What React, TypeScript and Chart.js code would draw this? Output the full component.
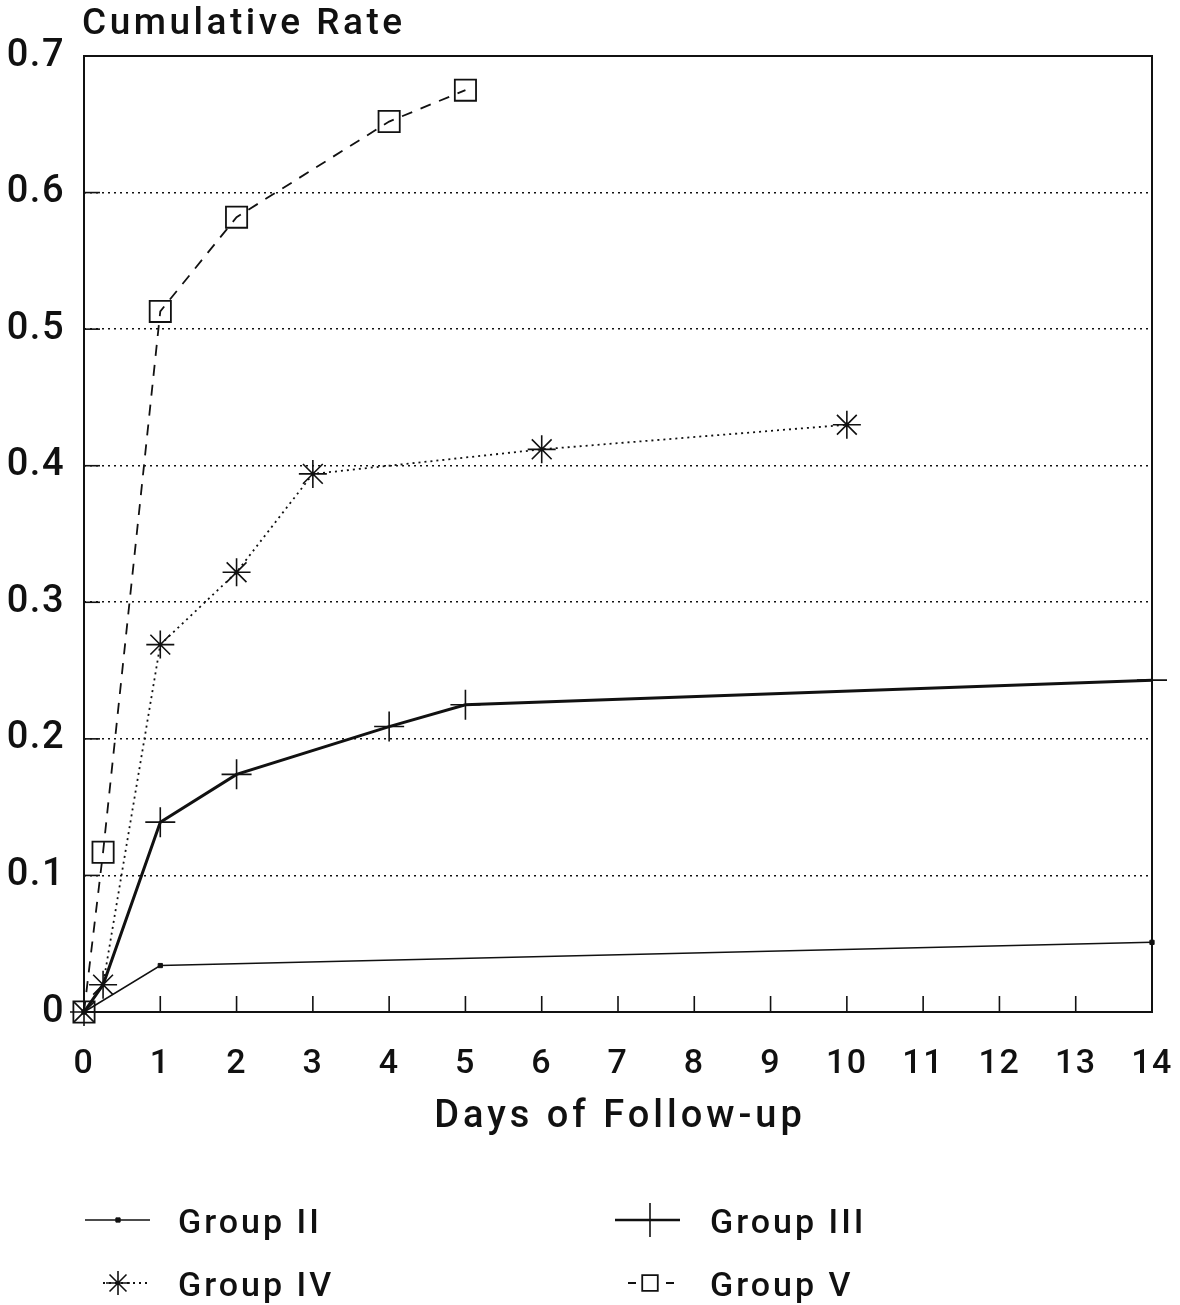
import React, { useEffect, useRef } from "react";
import { Chart, registerables } from "chart.js";

Chart.register(...registerables);

const groupIIX = [0, 1, 14];
const groupIIY = [0, 0.034, 0.051];
const groupIIIX = [0, 0.25, 1, 2, 4, 5, 14];
const groupIIIY = [0, 0.02, 0.139, 0.174, 0.209, 0.225, 0.243];
const groupIVX = [0, 0.25, 1, 2, 3, 6, 10];
const groupIVY = [0, 0.02, 0.269, 0.322, 0.394, 0.412, 0.43];
const groupVX = [0, 0.25, 1, 2, 4, 5];
const groupVY = [0, 0.117, 0.513, 0.582, 0.652, 0.675];

const seriesNames = ["Group II", "Group III", "Group IV", "Group V"];
const xTicks = [0, 1, 2, 3, 4, 5, 6, 7, 8, 9, 10, 11, 12, 13, 14];
const yTicks = [0, 0.1, 0.2, 0.3, 0.4, 0.5, 0.6, 0.7];

const FONT = "Roboto, 'Liberation Sans', Arial, sans-serif";
const WEIGHT = 500;
const INK = "#111";

function pts(xs: number[], ys: number[]) {
  return xs.map((x, i) => ({ x, y: ys[i] }));
}

function drawMarker(ctx: CanvasRenderingContext2D, style: string, x: number, y: number, r: number) {
  ctx.beginPath();
  if (style === "rect") {
    const s = Math.SQRT1_2 * r;
    ctx.rect(x - s, y - s, 2 * s, 2 * s);
    ctx.fill();
    ctx.stroke();
  } else if (style === "cross") {
    ctx.moveTo(x, y - r);
    ctx.lineTo(x, y + r);
    ctx.moveTo(x - r, y);
    ctx.lineTo(x + r, y);
    ctx.stroke();
  } else if (style === "star") {
    ctx.moveTo(x, y - r);
    ctx.lineTo(x, y + r);
    ctx.moveTo(x - r, y);
    ctx.lineTo(x + r, y);
    const d = r * Math.SQRT1_2;
    ctx.moveTo(x - d, y - d);
    ctx.lineTo(x + d, y + d);
    ctx.moveTo(x - d, y + d);
    ctx.lineTo(x + d, y - d);
    ctx.stroke();
  }
}

const framePlugin = {
  id: "frame",
  beforeDraw(chart: any) {
    chart.ctx.letterSpacing = "1.5px";
  },
  beforeDatasetsDraw(chart: any) {
    const { ctx, chartArea, scales } = chart;
    const { left, right, top, bottom } = chartArea;
    ctx.save();
    ctx.strokeStyle = INK;
    ctx.lineWidth = 2;
    ctx.setLineDash([]);
    ctx.strokeRect(left, top, right - left, bottom - top);
    ctx.lineWidth = 1.6;
    xTicks.forEach((t) => {
      if (t === 0 || t === 14) return;
      const px = scales.x.getPixelForValue(t);
      ctx.beginPath();
      ctx.moveTo(px, bottom);
      ctx.lineTo(px, bottom - 16);
      ctx.stroke();
    });
    yTicks.forEach((t) => {
      if (t === 0 || t === 0.7) return;
      const py = scales.y.getPixelForValue(t);
      ctx.beginPath();
      ctx.moveTo(left, py);
      ctx.lineTo(left + 16, py);
      ctx.stroke();
    });
    ctx.restore();
  },
  afterDraw(chart: any) {
    const { ctx, chartArea, data } = chart;
    ctx.save();
    ctx.fillStyle = INK;
    ctx.letterSpacing = "3.5px";
    ctx.font = `${WEIGHT} 37px ${FONT}`;
    ctx.textAlign = "left";
    ctx.textBaseline = "alphabetic";
    ctx.fillText("Cumulative Rate", 82, 34);
    ctx.letterSpacing = "4px";
    ctx.font = `${WEIGHT} 38px ${FONT}`;
    ctx.textAlign = "center";
    ctx.fillText("Days of Follow-up", (chartArea.left + chartArea.right) / 2 + 2, 1127);

    const items = [
      { x0: 85, x1: 150, mx: 118, y: 1220, tx: 178, r: 3 },
      { x0: 615, x1: 680, mx: 650, y: 1220, tx: 710, r: 17 },
      { x0: 103, x1: 148, mx: 118, y: 1283, tx: 178, r: 12 },
      { x0: 628, x1: 678, mx: 650, y: 1283, tx: 710, r: 11 },
    ];
    items.forEach((it, i) => {
      const ds = data.datasets[i];
      ctx.save();
      ctx.strokeStyle = ds.borderColor;
      ctx.lineWidth = i === 1 ? 2.5 : ds.borderWidth;
      ctx.setLineDash(i === 3 ? [8, 30] : ds.borderDash || []);
      ctx.beginPath();
      ctx.moveTo(it.x0, it.y);
      ctx.lineTo(it.x1, it.y);
      ctx.stroke();
      ctx.restore();
      ctx.save();
      ctx.setLineDash([]);
      ctx.fillStyle = i === 3 ? "#fff" : ds.pointBackgroundColor;
      ctx.strokeStyle = ds.pointBorderColor;
      ctx.lineWidth = ds.pointBorderWidth;
      drawMarker(ctx, ds.pointStyle, it.mx, it.y, it.r);
      ctx.restore();
      ctx.save();
      ctx.fillStyle = INK;
      ctx.letterSpacing = "3px";
      ctx.font = `${WEIGHT} 34px ${FONT}`;
      ctx.textAlign = "left";
      ctx.textBaseline = "alphabetic";
      ctx.fillText(seriesNames[i], it.tx, it.y + 13);
      ctx.restore();
    });
    ctx.restore();
  },
};

export default function App() {
  const ref = useRef<HTMLCanvasElement>(null);

  useEffect(() => {
    document.body.style.margin = "0";
    const canvas = ref.current!;
    const chart = new Chart(canvas, {
      type: "line",
      data: {
        datasets: [
          {
            label: seriesNames[0],
            data: pts(groupIIX, groupIIY),
            borderColor: INK,
            borderWidth: 1.5,
            pointStyle: "rect",
            pointRadius: 3,
            pointBackgroundColor: INK,
            pointBorderColor: INK,
            pointBorderWidth: 1,
            clip: false,
          },
          {
            label: seriesNames[1],
            data: pts(groupIIIX, groupIIIY),
            borderColor: INK,
            borderWidth: 3,
            pointStyle: "cross",
            pointRadius: [0, 0, 15, 15, 15, 15, 15],
            pointBackgroundColor: INK,
            pointBorderColor: INK,
            pointBorderWidth: 1.6,
            clip: false,
          },
          {
            label: seriesNames[2],
            data: pts(groupIVX, groupIVY),
            borderColor: INK,
            borderWidth: 1.8,
            borderDash: [2, 4],
            pointStyle: "star",
            pointRadius: 14,
            pointBackgroundColor: INK,
            pointBorderColor: INK,
            pointBorderWidth: 1.6,
            clip: false,
          },
          {
            label: seriesNames[3],
            data: pts(groupVX, groupVY),
            borderColor: INK,
            borderWidth: 1.8,
            borderDash: [11, 9],
            pointStyle: "rect",
            pointRadius: 15,
            pointBackgroundColor: "rgba(255,255,255,0)",
            pointBorderColor: INK,
            pointBorderWidth: 1.8,
            clip: false,
          },
        ],
      },
      options: {
        animation: false,
        responsive: false,
        maintainAspectRatio: false,
        layout: { padding: { top: 56, right: 28, left: 0, bottom: 0 } },
        plugins: {
          legend: { display: false },
          tooltip: { enabled: false },
        },
        elements: { line: { tension: 0 } },
        scales: {
          x: {
            type: "linear",
            min: 0,
            max: 14,
            afterFit: (s: any) => {
              s.height = 293;
              s.paddingLeft = 0;
              s.paddingRight = 0;
            },
            afterBuildTicks: (s: any) => {
              s.ticks = xTicks.map((v) => ({ value: v }));
            },
            border: { display: false },
            grid: { display: false, drawTicks: false },
            ticks: {
              color: INK,
              font: { family: FONT, size: 34, weight: WEIGHT },
              padding: 32,
              maxRotation: 0,
              autoSkip: false,
              callback: (v: any) => String(v),
            },
          },
          y: {
            type: "linear",
            min: 0,
            max: 0.7,
            afterFit: (s: any) => {
              s.width = 84;
              s.paddingTop = 0;
              s.paddingBottom = 0;
            },
            afterBuildTicks: (s: any) => {
              s.ticks = yTicks.map((v) => ({ value: v }));
            },
            border: { display: false },
            grid: {
              drawTicks: false,
              color: (c: any) =>
                c.tick && (c.tick.value === 0 || c.tick.value === 0.7) ? "rgba(0,0,0,0)" : INK,
              lineWidth: 1.6,
            },
            ticks: {
              color: INK,
              font: { family: FONT, size: 38, weight: WEIGHT },
              padding: 19,
              autoSkip: false,
              callback: (v: any) => (v === 0 ? "0" : Number(v).toFixed(1)),
            },
          },
        },
      },
      plugins: [framePlugin],
    } as any);
    (chart.options.scales as any).y.border = { display: false, dash: [2, 4] };
    (chart.options.scales as any).y.grid.borderDash = [2, 4];
    chart.update();
    return () => chart.destroy();
  }, []);

  return (
    <div style={{ width: 1180, height: 1305 }}>
      <canvas ref={ref} width={1180} height={1305} style={{ display: "block" }} />
    </div>
  );
}
